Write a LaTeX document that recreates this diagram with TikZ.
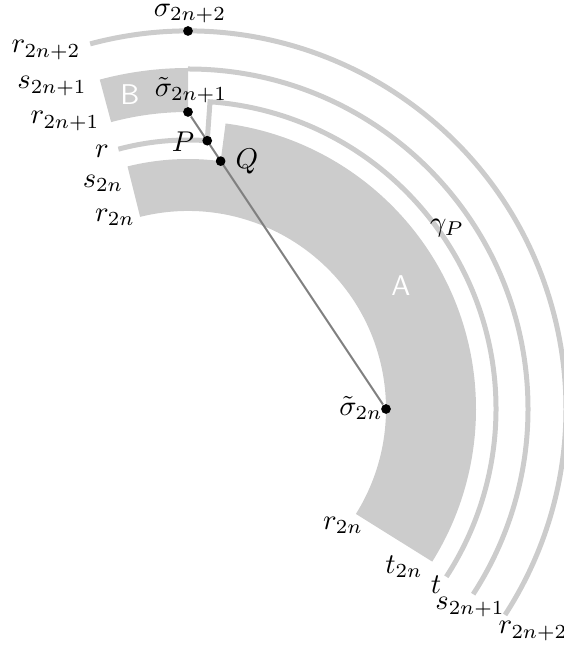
\documentclass[tikz,border=0pt]{standalone}
\usepackage{amsmath}
\usepackage{tikz}
\pgfdeclarelayer{background}
\pgfsetlayers{background,main}
\tikzstyle{pt}=[circle, fill=black, inner sep=0pt, minimum size=3.4pt]
\tikzstyle{band}=[fill=gray!40, draw=none]
\tikzstyle{rim}=[draw=gray!40, line width=1.75pt]
\tikzstyle{tag}=[white, font=\sffamily]

\begin{document}
\begin{tikzpicture}[x=0.35pt, y=0.35pt]
  \useasboundingbox (-188,-242) rectangle (375,409);

  \draw[rim] (105:378) arc[start angle=105, end angle=-33, radius=378];
  \draw[rim] (90:340) arc[start angle=90, end angle=-33, radius=340];
  \draw[rim] (105:269) arc[start angle=105, end angle=85.9, radius=269] -- (85.9:308)
     arc[start angle=85.9, end angle=-33, radius=308];

  \node[pt] at (90:378) (sig2) {};
  \node[pt] at (90:297) (sig1) {};
  \node[pt] at (0:198) (sig0) {};
  \node[pt] at (85.9:269) (p) {};
  \node[pt] at (82.5:250) (q) {};

  \node at (2,399) (lsig2) {$\tilde{\sigma}_{2n+2}$};
  \node at (3,319) (lsig1) {$\tilde{\sigma}_{2n+1}$};
  \node at (173,1) (lsig0) {$\tilde{\sigma}_{2n}$};
  \node at (-5,267) (lp) {$P$};
  \node at (59,247) (lq) {$Q$};
  \node at (259,181) (lgam) {$\gamma_P$};

  \node at (-142,359) (lr2) {$r_{2n+2}$};
  \node at (-136,323) (ls1) {$s_{2n+1}$};
  \node at (-123,288) (lr1) {$r_{2n+1}$};
  \node at (-86,258) (lr) {$r$};
  \node at (-85,226) (ls0) {$s_{2n}$};
  \node at (-73,192) (lr0) {$r_{2n}$};

  \node at (155,-116) (er0) {$r_{2n}$};
  \node at (216,-158) (et0) {$t_{2n}$};
  \node at (248,-176) (et) {$t$};
  \node at (282,-198) (es1) {$s_{2n+1}$};
  \node at (345,-222) (er2) {$r_{2n+2}$};

  \node[tag] at (-58,314) (b) {B};
  \node[tag] at (213,123) (a) {A};

  \begin{pgfonlayer}{background}
    % A
    \path[band] (104:198) arc[start angle=104, end angle=-32, radius=198] -- (-32:288)
      arc[start angle=-32, end angle=82.5, radius=288] -- (82.5:250)
      arc[start angle=82.5, end angle=104, radius=250] -- cycle;
    % B
    \path[band] (105:297) arc[start angle=105, end angle=90, radius=297] -- (90:341)
      arc[start angle=90, end angle=105, radius=341] -- cycle;
    \draw[gray, line width=0.7pt] (sig1) -- (sig0);
  \end{pgfonlayer}
\end{tikzpicture}
\end{document}
